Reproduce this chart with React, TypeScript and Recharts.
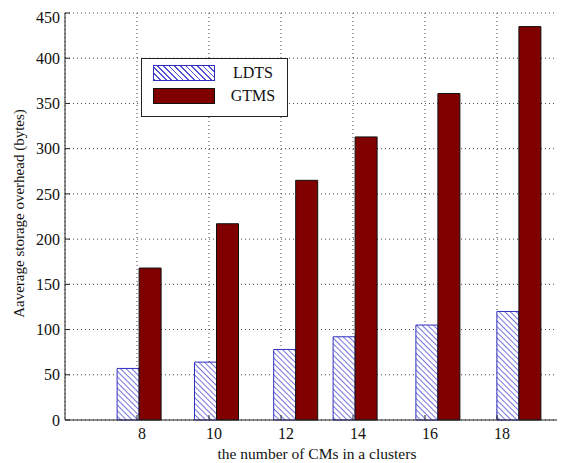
import {
  Bar,
  CartesianGrid,
  ComposedChart,
  Label,
  Legend,
  XAxis,
  YAxis,
} from "recharts";

// cluster sizes (x tick labels) and where each bar pair sits on the x scale
const clusterSizes = [8, 10, 12, 14, 16, 18];
const barPositions = [8.05, 10.2, 12.4, 14.05, 16.35, 18.6];

const ldts = [57, 64, 78, 92, 105, 120];
const gtms = [168, 217, 265, 313, 361, 435];

const yTicks = [0, 50, 100, 150, 200, 250, 300, 350, 400, 450];

const seriesNames = ["LDTS", "GTMS"];

const FONT = "'Liberation Serif', 'Times New Roman', serif";
const HATCH_LINE = "#5252d4";
const HATCH_EDGE = "#2f2fc0";
const GTMS_FILL = "#800000";

const data = barPositions.map((pos, i) => ({
  pos,
  size: clusterSizes[i],
  LDTS: ldts[i],
  GTMS: gtms[i],
}));

function LegendBox() {
  return (
    <div
      style={{
        width: 145,
        height: 57,
        border: "1px solid #222",
        background: "#fff",
        fontFamily: FONT,
        fontSize: 16,
        color: "#111",
        position: "relative",
      }}
    >
      {seriesNames.map((name, i) => (
        <div
          key={name}
          style={{
            position: "absolute",
            left: 11,
            top: 5 + i * 23,
            display: "flex",
            alignItems: "center",
          }}
        >
          <div
            style={{
              width: 62,
              height: 16,
              boxSizing: "border-box",
              border: i === 0 ? `1px solid ${HATCH_EDGE}` : "1px solid #111",
              background:
                i === 0
                  ? `repeating-linear-gradient(45deg, ${HATCH_LINE} 0px, ${HATCH_LINE} 1.2px, #fff 1.2px, #fff 4px)`
                  : GTMS_FILL,
            }}
          />
          <span style={{ width: 60, textAlign: "center", marginLeft: 8 }}>
            {name}
          </span>
        </div>
      ))}
    </div>
  );
}

export default function App() {
  return (
    <div
      style={{
        width: 557,
        height: 455,
        overflow: "hidden",
        position: "relative",
        background: "#fff",
      }}
    >
      <ComposedChart
        width={575}
        height={455}
        data={data}
        barGap={0}
        margin={{ top: 5, right: 14, left: 0, bottom: 0 }}
      >
        <defs>
          <pattern
            id="ldtsHatch"
            patternUnits="userSpaceOnUse"
            width={4}
            height={4}
            patternTransform="rotate(-45)"
          >
            <rect width={4} height={4} fill="#fff" />
            <line x1={0} y1={0} x2={0} y2={4} stroke={HATCH_LINE} strokeWidth={1.6} />
          </pattern>
        </defs>
        <CartesianGrid stroke="#444" strokeDasharray="1 3" />
        <XAxis
          type="number"
          dataKey="pos"
          domain={[6, 20]}
          ticks={clusterSizes}
          allowDataOverflow
          height={43}
          stroke="#222"
          tickSize={-5}
          tickMargin={13}
          tick={{ fill: "#111", fontSize: 16, fontFamily: FONT, dx: 5 }}
        >
          <Label
            value="the number of CMs in a clusters"
            position="insideBottom"
            offset={4}
            style={{ fill: "#111", fontSize: 15.5, fontFamily: FONT }}
          />
        </XAxis>
        <XAxis
          xAxisId="top"
          orientation="top"
          type="number"
          dataKey="pos"
          domain={[6, 20]}
          ticks={clusterSizes}
          allowDataOverflow
          height={0}
          stroke="#222"
          tickSize={-5}
          tick={false}
        />
        <YAxis
          domain={[0, 450]}
          ticks={yTicks}
          width={57}
          stroke="#222"
          tickSize={-5}
          tickMargin={10}
          tick={{ fill: "#111", fontSize: 16, fontFamily: FONT }}
        >
          <Label
            content={({ viewBox }: any) => {
              const cx = 11;
              const cy = viewBox.y + viewBox.height / 2 - 3;
              return (
                <text
                  x={cx}
                  y={cy}
                  transform={`rotate(-90, ${cx}, ${cy})`}
                  textAnchor="middle"
                  dominantBaseline="central"
                  fill="#111"
                  fontSize={15}
                  fontFamily={FONT}
                >
                  Aaverage storage overhead (bytes)
                </text>
              );
            }}
          />
        </YAxis>
        <Legend
          layout="horizontal"
          verticalAlign="middle"
          align="center"
          wrapperStyle={{ left: 133, top: 50, width: 147, height: 59 }}
          content={() => <LegendBox />}
        />
        <Bar
          dataKey="LDTS"
          barSize={22}
          fill="url(#ldtsHatch)"
          stroke={HATCH_EDGE}
          strokeWidth={1}
          isAnimationActive={false}
        />
        <Bar
          dataKey="GTMS"
          barSize={22}
          fill={GTMS_FILL}
          stroke="#111"
          strokeWidth={1}
          isAnimationActive={false}
        />
      </ComposedChart>
    </div>
  );
}
